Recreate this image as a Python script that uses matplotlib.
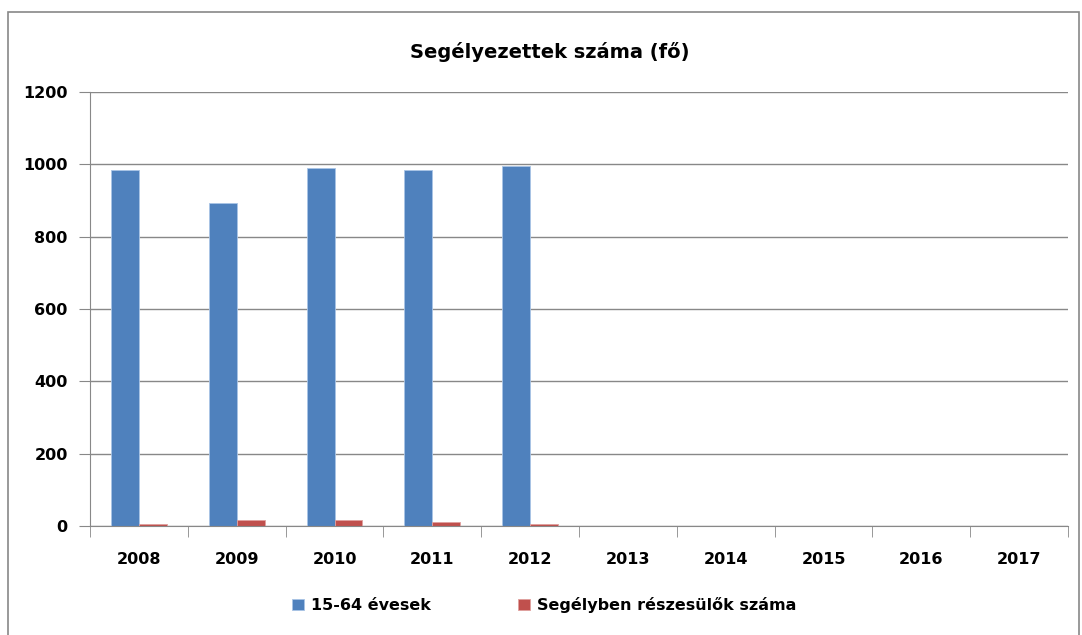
import numpy as np
import matplotlib.pyplot as plt
from matplotlib.patches import Rectangle

# data
years = ['2008', '2009', '2010', '2011', '2012', '2013', '2014', '2015', '2016', '2017']
evesek = [984, 893, 990, 984, 995, 0, 0, 0, 0, 0]
segelyben = [6, 16, 16, 11, 6, 0, 0, 0, 0, 0]

plt.rcParams['font.family'] = ['DejaVu Sans']
plt.rcParams['font.weight'] = 'bold'

fig = plt.figure(figsize=(10.82, 6.35), dpi=100)

# outer chart border (bottom edge runs off the picture)
fig.patches.append(Rectangle((8/1082, -5/635), 1071/1082, 628/635, transform=fig.transFigure,
                             fill=False, edgecolor='#888888', linewidth=1.2))

ax = fig.add_axes([90/1082, 1 - 526/635, (1068-90)/1082, (526-92)/635])

x = np.arange(len(years))
w = 0.286
ax.bar(x - w/2, evesek, w, color='#4f81bd', edgecolor='#a9c4e6', linewidth=0.6,
       label='15-64 évesek')
ax.bar(x + w/2, segelyben, w, color='#c0504d', edgecolor='#e0a09e', linewidth=0.6,
       label='Segélyben részesülők száma')

ax.set_xlim(-0.5, len(years) - 0.5)
ax.set_ylim(0, 1200)
ax.set_yticks(np.arange(0, 1201, 200))
ax.set_xticks(x)
ax.set_xticklabels(years)
ax.set_xticks(np.arange(-0.5, len(years), 1), minor=True)
ax.tick_params(axis='x', which='major', length=0, pad=19, labelsize=11.5)
ax.tick_params(axis='x', which='minor', length=8, color='#888888', direction='out')
ax.tick_params(axis='y', length=8, color='#888888', labelsize=11.5, pad=8)

ax.grid(True, axis='y', color='#888888', linewidth=1.0)
ax.set_axisbelow(True)
for s in ['top', 'right']:
    ax.spines[s].set_visible(False)
ax.spines['left'].set_color('#888888')
ax.spines['bottom'].set_color('#888888')

fig.text(0.508, 1 - 52/635, 'Segélyezettek száma (fő)', ha='center', va='center',
         fontsize=14, fontweight='bold')

fig.legend(loc='center', bbox_to_anchor=(0.503, 1 - 605/635), ncol=2, frameon=False,
           fontsize=11.5, handlelength=0.75, handleheight=0.75, handletextpad=0.4,
           columnspacing=5.5)

plt.savefig('out.png', dpi=100)
